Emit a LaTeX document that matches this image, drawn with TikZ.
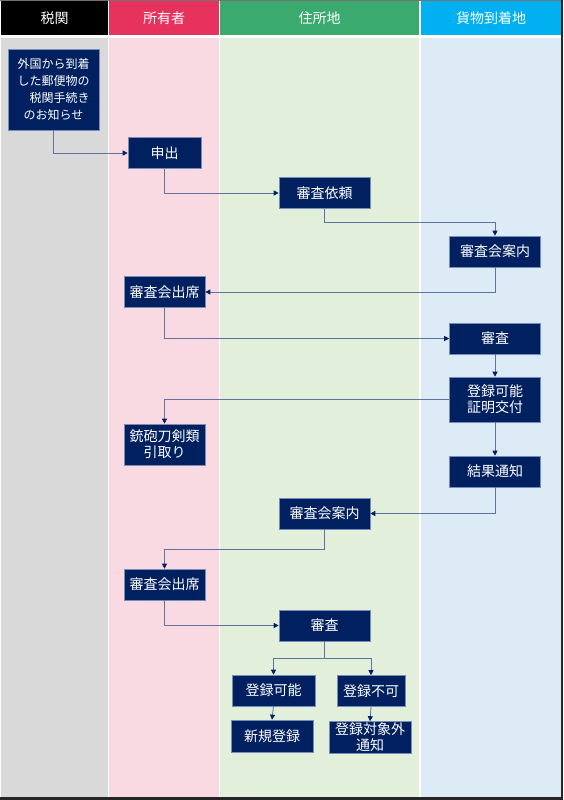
\documentclass[tikz,border=0pt]{standalone}
\usepackage{fontspec}
\setmainfont{Noto Sans CJK JP}
\usetikzlibrary{arrows.meta}

\definecolor{navy}{RGB}{0,32,96}
\definecolor{boxedge}{RGB}{120,140,185}
\definecolor{linecol}{RGB}{95,115,160}
\definecolor{lanegray}{RGB}{217,217,217}
\definecolor{lanepink}{RGB}{249,218,226}
\definecolor{lanegreen}{RGB}{226,239,218}
\definecolor{laneblue}{RGB}{221,235,247}
\definecolor{headred}{RGB}{231,50,94}
\definecolor{headgreen}{RGB}{58,170,110}
\definecolor{headblue}{RGB}{0,176,240}

\begin{document}
\begin{tikzpicture}[x=1pt, y=-1pt,
    every node/.style={font=\fontsize{14}{16}\selectfont},
    headcell/.style={text=white, minimum height=34pt, inner sep=0pt},
    flowbox/.style={draw=boxedge, fill=navy, text=white, line width=0.6pt,
      minimum width=91pt, minimum height=31pt, inner sep=0pt, align=center},
    flowline/.style={draw=linecol, line width=0.8pt,
      -{Triangle[length=5pt, width=5pt, color=navy]}}]
    \useasboundingbox (0,0) rectangle (563,800);
    \fill[white] (0,0) rectangle (563,800);

    \fill[lanegray] (1,38) rectangle (108,797);
    \fill[lanepink] (109,38) rectangle (219,797);
    \fill[lanegreen] (220,38) rectangle (419,797);
    \fill[laneblue] (421,38) rectangle (561,797);

    \node[headcell, fill=black, minimum width=107pt] (hcustoms) at (54.5,18) {税関};
    \node[headcell, fill=headred, minimum width=110pt] (howner) at (164,18) {所有者};
    \node[headcell, fill=headgreen, minimum width=199pt] (haddress) at (319.5,18) {住所地};
    \node[headcell, fill=headblue, minimum width=140pt] (hcargo) at (491,18) {貨物到着地};

    \fill[black!55] (0,0) rectangle (563,1);
    \fill[black!85] (0,797) rectangle (563,800);
    \fill[black!85] (561,0) rectangle (563,800);

    \node[flowbox, minimum height=81pt, font=\fontsize{12}{17}\selectfont] (notice) at (53.5,89.5)
      {外国から到着\\した郵便物の\\\hspace*{1em}税関手続き\\のお知らせ};
    \node[flowbox, minimum width=73pt] (apply) at (164.5,153) {申出};
    \node[flowbox] (request) at (324.5,193) {審査依頼};
    \node[flowbox] (guide1) at (495,251.5) {審査会案内};
    \node[flowbox, minimum width=81pt] (attend1) at (164.5,292) {審査会出席};
    \node[flowbox] (exam1) at (495,338.5) {審査};
    \node[flowbox, minimum height=45pt] (cert) at (495,399.5) {登録可能\\証明交付};
    \node[flowbox, minimum width=81pt, minimum height=41pt] (pickup) at (164.5,444.5) {銃砲刀剣類\\引取り};
    \node[flowbox] (result) at (495,471.5) {結果通知};
    \node[flowbox] (guide2) at (324.5,513.5) {審査会案内};
    \node[flowbox, minimum width=81pt] (attend2) at (164.5,584.5) {審査会出席};
    \node[flowbox] (exam2) at (324.5,625.5) {審査};
    \node[flowbox, minimum width=83pt] (okreg) at (273.5,690.5) {登録可能};
    \node[flowbox, minimum width=68pt] (ngreg) at (371,691) {登録不可};
    \node[flowbox, minimum width=82pt, minimum height=32pt] (newreg) at (272,736) {新規登録};
    \node[flowbox, minimum width=82pt, minimum height=32pt] (notify) at (370,737.5) {登録対象外\\通知};

    \draw[flowline] (notice.south) |- (apply.west);
    \draw[flowline] (apply.south) |- (request.west);
    \draw[flowline] (request.south) -- ++(0,14) -| (guide1.north);
    \draw[flowline] (guide1.south) |- (attend1.east);
    \draw[flowline] (attend1.south) |- (exam1.west);
    \draw[flowline] (exam1.south) -- (cert.north);
    \draw[flowline] (cert.west) -| (pickup.north);
    \draw[flowline] (cert.south) -- (result.north);
    \draw[flowline] (result.south) |- (guide2.east);
    \draw[flowline] (guide2.south) -- ++(0,20) -| (attend2.north);
    \draw[flowline] (attend2.south) |- (exam2.west);
    \draw[flowline] (exam2.south) -- ++(0,17) -| (okreg.north);
    \draw[flowline] (exam2.south) -- ++(0,17) -| (ngreg.north);
    \draw[flowline] (okreg.south) -- (newreg.north);
    \draw[flowline] (ngreg.south) -- (notify.north);
\end{tikzpicture}
\end{document}
